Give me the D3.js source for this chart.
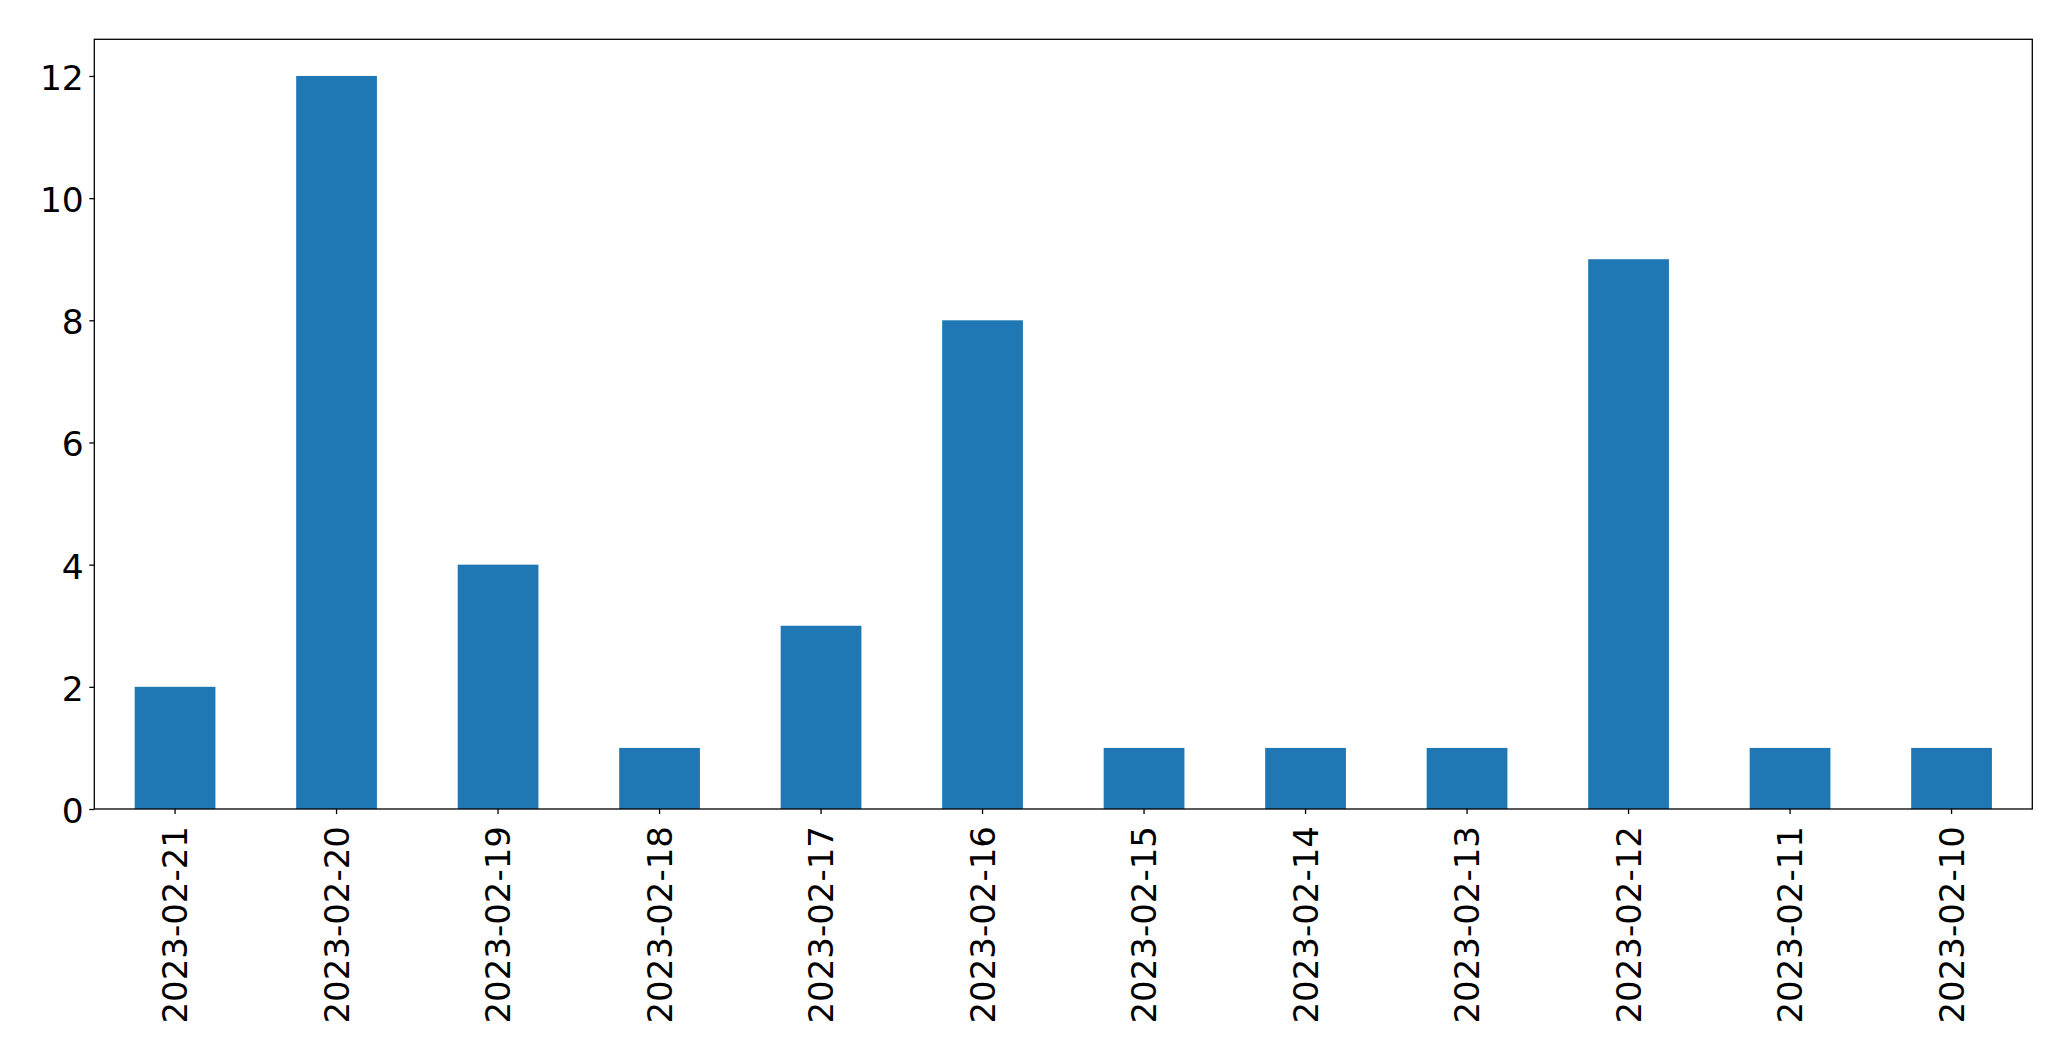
<!DOCTYPE html>
<html><head><meta charset="utf-8">
<script src="https://cdn.jsdelivr.net/npm/d3@7"></script>
<style>html,body{margin:0;padding:0;background:#fff;overflow:hidden}</style>
</head><body>
<svg id="chart" width="2071" height="1061"></svg>
<script>
const categories = ["2023-02-21","2023-02-20","2023-02-19","2023-02-18","2023-02-17","2023-02-16","2023-02-15","2023-02-14","2023-02-13","2023-02-12","2023-02-11","2023-02-10"];
const values = [2,12,4,1,3,8,1,1,1,9,1,1];
const yTicks = [0,2,4,6,8,10,12];

const svg = d3.select("#chart");
const L = 94.3, R = 2032.3, T = 39.3, B = 809;
const font = "'DejaVu Sans', sans-serif";

const x = d3.scaleBand().domain(categories).range([L, R]).paddingInner(0.5).paddingOuter(0.25);
const y = d3.scaleLinear().domain([0, 12.6]).range([B, T]);

svg.append("g").selectAll("rect").data(values).join("rect")
  .attr("x", (d,i) => x(categories[i]))
  .attr("width", x.bandwidth())
  .attr("y", d => y(d))
  .attr("height", d => B - y(d))
  .attr("fill", "#1f77b4");

const yAxis = svg.append("g").attr("transform", `translate(${L},0)`)
  .call(d3.axisLeft(y).tickValues(yTicks).tickSize(5).tickPadding(5.5).tickFormat(d3.format("d")));
yAxis.select(".domain").remove();
yAxis.selectAll("text").attr("font-family", font).attr("font-size", 34.5).attr("fill", "#000").attr("dy", "0.39em");
yAxis.selectAll("line").attr("stroke", "#000").attr("stroke-width", 1.3);

const xAxis = svg.append("g").attr("transform", `translate(0,${B})`)
  .call(d3.axisBottom(x).tickSize(5).tickPadding(0));
xAxis.select(".domain").remove();
xAxis.selectAll("line").attr("stroke", "#000").attr("stroke-width", 1.3);
xAxis.selectAll("text")
  .attr("font-family", font).attr("font-size", 34).attr("fill", "#000")
  .attr("transform", "translate(0,17) rotate(-90)")
  .attr("dy", "0.36em").attr("dx", 0).attr("y", 0).attr("x", 0)
  .attr("text-anchor", "end");

svg.append("rect").attr("x", L).attr("y", T).attr("width", R - L).attr("height", B - T)
  .attr("fill", "none").attr("stroke", "#000").attr("stroke-width", 1.3);
</script>
</body></html>
